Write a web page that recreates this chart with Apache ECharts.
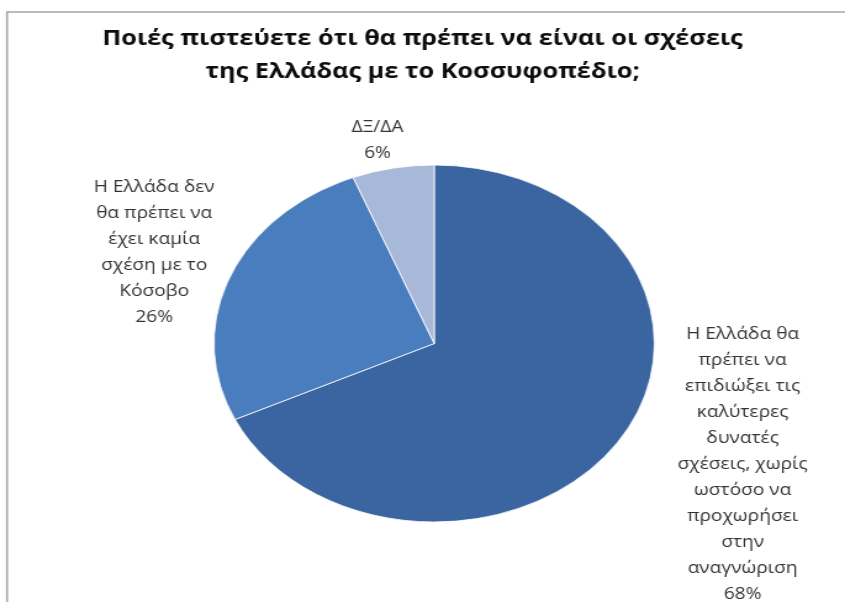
<!DOCTYPE html>
<html>
<head>
<meta charset="utf-8">
<script src="https://cdn.jsdelivr.net/npm/echarts@6/dist/echarts.min.js"></script>
<style>
  html, body { margin: 0; padding: 0; background: #fff; overflow: hidden; width: 845px; height: 602px; }
  #chart { position: absolute; left: 0; top: 0; width: 685px; height: 602px; transform: scaleX(1.2336); transform-origin: 0 0; }
</style>
</head>
<body>
<div id="chart"></div>
<script>
const titleText = 'Ποιές πιστεύετε ότι θα πρέπει να είναι οι σχέσεις\nτης Ελλάδας με το Κοσσυφοπέδιο;';
const categories = [
  'Η Ελλάδα θα\nπρέπει να\nεπιδιώξει τις\nκαλύτερες\nδυνατές\nσχέσεις, χωρίς\nωστόσο να\nπροχωρήσει\nστην\nαναγνώριση',
  'Η Ελλάδα δεν\nθα πρέπει να\nέχει καμία\nσχέση με το\nΚόσοβο',
  'ΔΞ/ΔΑ'
];
const values = [68, 26, 6];
const colors = ['#3A65A0', '#4A7DBE', '#A8B8D8'];
const labelAnchors = [[602, 465], [125, 253], [306, 141]];

const chart = echarts.init(document.getElementById('chart'), null, { renderer: 'canvas' });
chart.setOption({
  animation: false,
  backgroundColor: '#ffffff',
  title: {
    text: titleText,
    left: 'center',
    top: 18,
    textStyle: { fontFamily: 'Open Sans', fontWeight: 'bold', fontSize: 20.5, lineHeight: 33, color: '#0d0d0d' }
  },
  graphic: [{
    type: 'rect',
    z: -1,
    shape: { x: 5.7, y: 12, width: 800, height: 700 },
    style: { fill: 'none', stroke: '#a6a6a6', lineWidth: 1.6 }
  }],
  series: [{
    type: 'pie',
    center: [352, 343.5],
    radius: 178.5,
    startAngle: 90,
    clockwise: true,
    silent: true,
    data: categories.map((c, i) => ({ name: c, value: values[i], itemStyle: { color: colors[i] } })),
    itemStyle: { borderColor: '#ffffff', borderWidth: 0.8 },
    label: {
      show: true,
      position: 'outside',
      formatter: '{b}\n{c}%',
      fontFamily: 'Open Sans',
      fontSize: 15.5,
      lineHeight: 26,
      color: '#333333'
    },
    labelLine: { show: false },
    labelLayout: function (params) {
      const a = labelAnchors[params.dataIndex];
      return { x: a[0], y: a[1], align: 'center', verticalAlign: 'middle' };
    }
  }]
});
</script>
</body>
</html>
